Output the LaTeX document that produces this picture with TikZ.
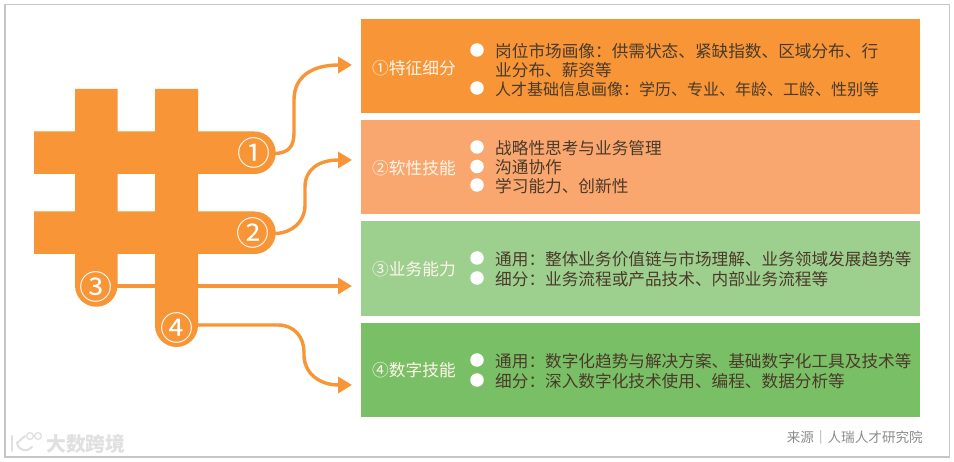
\documentclass[tikz,border=0pt]{standalone}
\usepackage{fontspec}
\setmainfont{Noto Sans CJK SC}
\usetikzlibrary{arrows.meta}
\definecolor{orangeA}{HTML}{F79537}
\definecolor{orangeB}{HTML}{FAA76F}
\definecolor{greenA}{HTML}{9DD08F}
\definecolor{greenB}{HTML}{79BF66}
\definecolor{inkB}{HTML}{4A3A2A}
\tikzset{
  panel/.style={fill=#1,draw=none,minimum width=559pt,anchor=north west,inner sep=0pt},
  captext/.style={anchor=west,text=white!92!orange,font=\fontsize{16.7}{18}\selectfont,inner sep=0pt},
  entry/.style={anchor=west,text=inkB,font=\fontsize{16.65}{19}\selectfont,inner sep=0pt},
  tightentry/.style={anchor=west,text=inkB,font=\fontsize{16}{19}\selectfont,inner sep=0pt},
  bullet/.style={circle,fill=white,minimum size=13.5pt,inner sep=0pt},
  numtext/.style={text=white,font=\fontsize{33}{33}\selectfont,inner sep=0pt},
  link/.style={draw=orangeA,line width=3.4pt,-{Triangle[length=14pt,width=16pt]}},
  hashbar/.style={fill=orangeA,draw=none},
}
\begin{document}
\begin{tikzpicture}[x=1pt,y=-1pt]
\useasboundingbox (0,0) rectangle (954,462);
\fill[white] (0,0) rectangle (954,462);
\draw[gray!45,line width=1.2pt] (5,4.5) rectangle (949.5,457);

% hash sign
\fill[hashbar] (75,285.5) -- (75,89) -- (117.5,89) -- (117.5,285.5) arc[start angle=0,end angle=180,radius=21.25] -- cycle;
\fill[hashbar] (155,325.5) -- (155,89) -- (198,89) -- (198,325.5) arc[start angle=0,end angle=180,radius=21.5] -- cycle;
\fill[hashbar] (34,131.5) -- (254.5,131.5) arc[start angle=-90,end angle=90,radius=21.25] -- (34,174) -- cycle;
\fill[hashbar] (34,211.5) -- (254.5,211.5) arc[start angle=-90,end angle=90,radius=21.25] -- (34,254) -- cycle;

\node[numtext] (n1) at (254,153) {①};
\node[numtext] (n2) at (253,233) {②};
\node[numtext] (n3) at (96,287) {③};
\node[numtext] (n4) at (176.5,327.5) {④};

% panels
\node[panel=orangeA,minimum height=94pt] (p1) at (361,19) {};
\node[panel=orangeB,minimum height=94pt] (p2) at (361,120) {};
\node[panel=greenA,minimum height=95pt] (p3) at (361,221) {};
\node[panel=greenB,minimum height=94pt] (p4) at (361,323) {};

% connectors
\coordinate (s1) at (275,153.5);
\coordinate (s2) at (275,233.5);
\coordinate (s3) at (117,286);
\coordinate (s4) at (197.5,325);
\coordinate (e1) at (352,65);
\coordinate (e2) at (352,160);
\coordinate (e3) at (352,286);
\coordinate (e4) at (352,385);
\draw[link] (s1) .. controls (288,153) and (294,147) .. (294,133) -- (294,100) .. controls (294,78) and (310,65) .. (e1);
\draw[link] (s2) .. controls (292,233) and (305,222) .. (305,205) -- (305,187) .. controls (305,170) and (318,160) .. (e2);
\draw[link] (s3) -- (e3);
\draw[link] (s4) -- (278,325) .. controls (294,325) and (304,337) .. (304,352) -- (304,355) .. controls (304,372) and (318,385) .. (e4);

% panel captions
\node[captext] (c1) at (372,68) {①特征细分};
\node[captext] (c2) at (372,168) {②软性技能};
\node[captext] (c3) at (372,269) {③业务能力};
\node[captext] (c4) at (372,370) {④数字技能};

% entries
\node[bullet] (d11) at (477,50) {};
\node[entry] (t11) at (495,51) {岗位市场画像：供需状态、紧缺指数、区域分布、行};
\node[entry] (t12) at (495,70) {业分布、薪资等};
\node[bullet] (d13) at (477,88) {};
\node[tightentry] (t13) at (495,89) {人才基础信息画像：学历、专业、年龄、工龄、性别等};
\node[bullet] (d21) at (477,147) {};
\node[entry] (t21) at (495,148) {战略性思考与业务管理};
\node[bullet] (d22) at (477,166.5) {};
\node[entry] (t22) at (495,167) {沟通协作};
\node[bullet] (d23) at (477,185) {};
\node[entry] (t23) at (495,186) {学习能力、创新性};
\node[bullet] (d31) at (477,258) {};
\node[entry] (t31) at (495,259.5) {通用：整体业务价值链与市场理解、业务领域发展趋势等};
\node[bullet] (d32) at (477,278) {};
\node[entry] (t32) at (495,279) {细分：业务流程或产品技术、内部业务流程等};
\node[bullet] (d41) at (477,360) {};
\node[entry] (t41) at (495,361) {通用：数字化趋势与解决方案、基础数字化工具及技术等};
\node[bullet] (d42) at (477,380) {};
\node[entry] (t42) at (495,381) {细分：深入数字化技术使用、编程、数据分析等};

% source and watermark
\node[anchor=east,text=gray!90,font=\fontsize{13.6}{15}\selectfont,inner sep=0pt] (src) at (923,437) {来源｜人瑞人才研究院};
\node[anchor=west,text=gray!24,font=\bfseries\fontsize{19.8}{21}\selectfont,inner sep=0pt] (wm) at (46,444) {大数跨境};
\draw[gray!24,line width=2pt,line cap=round] (12,436) -- (12,451);
\draw[gray!24,line width=2pt,line cap=round] (25,436) -- (17,443) .. controls (19,452) and (28,452) .. (32,447);
\draw[gray!24,line width=1.3pt] (30,436) circle (3.4pt) (38,436) circle (3.4pt);
\end{tikzpicture}
\end{document}
